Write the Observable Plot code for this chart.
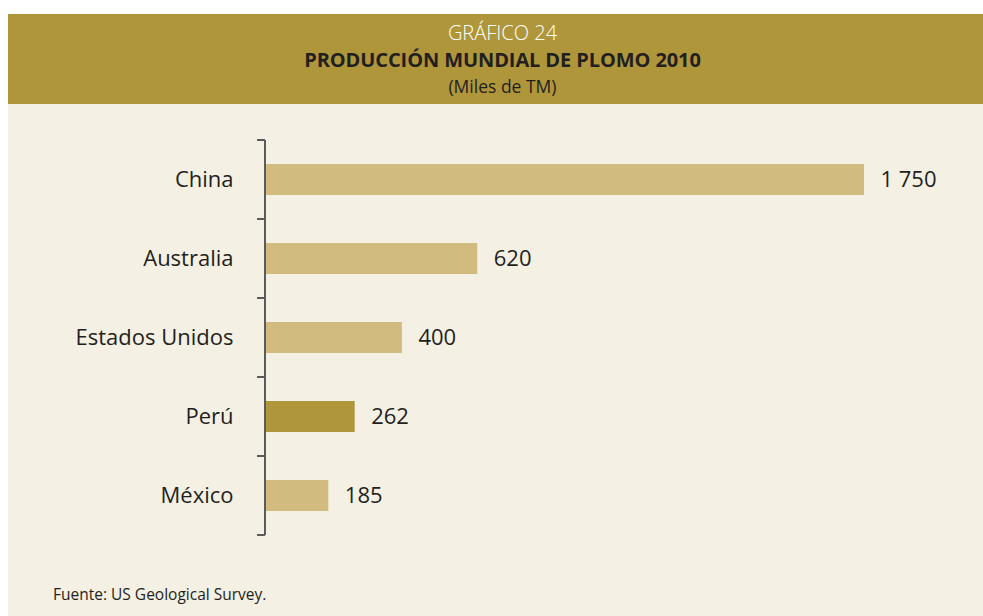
<!DOCTYPE html>
<html>
<head>
<meta charset="utf-8">
<script src="https://cdn.jsdelivr.net/npm/d3@7"></script>
<script src="https://cdn.jsdelivr.net/npm/@observablehq/plot@0.6"></script>
<style>
  html, body { margin: 0; padding: 0; background: #ffffff; }
  body { width: 983px; height: 616px; position: relative; overflow: hidden; font-family: "Open Sans", sans-serif; }
  #panel { position: absolute; left: 8px; top: 14px; width: 975px; height: 602px; background: #f5f0e4; }
  #header { position: absolute; left: 0; top: 0; width: 975px; height: 90px; background: #b0963a; text-align: center; }
  #header div { position: absolute; left: 0; right: 0; padding-left: 14px; line-height: 1; white-space: nowrap; }
  #header .t1 { top: 8.5px; color: #ffffff; font-size: 20px; font-weight: 300; }
  #header .t2 { top: 36.2px; color: #231f20; font-size: 20px; font-weight: 700; letter-spacing: -0.1px; }
  #header .t3 { top: 63.5px; color: #231f20; font-size: 17.5px; }
  #chart { position: absolute; left: 0; top: 90px; }
  #footer { position: absolute; left: 45px; top: 573px; font-size: 15.5px; line-height: 1; color: #231f20; }
</style>
</head>
<body>
<div id="panel">
  <div id="header">
    <div class="t1">GRÁFICO 24</div>
    <div class="t2">PRODUCCIÓN MUNDIAL DE PLOMO 2010</div>
    <div class="t3">(Miles de TM)</div>
  </div>
  <div id="chart"></div>
  <div id="footer">Fuente: US Geological Survey.</div>
</div>
<script>
const countries = ["China", "Australia", "Estados Unidos", "Perú", "México"];
const values = [1750, 620, 400, 262, 185];
const highlight = "Perú";

const data = countries.map((c, i) => ({country: c, value: values[i]}));
const fmt = d3.formatLocale({decimal: ",", thousands: " ", grouping: [3], currency: ["", ""]}).format(",");

const lightBar = "#d2bb7e";
const darkBar = "#b0963a";
const ink = "#231f20";
const axisColor = "#5b5b5b";

// Axis line with ticks at band boundaries, drawn from the y band scale
function bracketAxis(index, scales, values, dims) {
  const y = scales.y;
  const step = y.step ? y.step() : y.bandwidth();
  const gap = (step - y.bandwidth()) / 2;
  const x0 = scales.x(0);
  const bounds = countries.map(c => y(c) - gap);
  bounds.push(y(countries[countries.length - 1]) + y.bandwidth() + gap);
  const g = d3.create("svg:g").attr("stroke", axisColor).attr("stroke-width", 2).attr("fill", "none");
  g.append("line").attr("x1", x0).attr("x2", x0).attr("y1", bounds[0]).attr("y2", bounds[bounds.length - 1]);
  for (const b of bounds) {
    g.append("line").attr("x1", x0 - 8).attr("x2", x0).attr("y1", b).attr("y2", b);
  }
  return g.node();
}

const chart = Plot.plot({
  width: 975,
  height: 460,
  marginTop: 35,
  marginBottom: 29,
  marginLeft: 257,
  marginRight: 119,
  style: {background: "transparent", fontFamily: "Open Sans, sans-serif"},
  x: {domain: [0, 1750], axis: null},
  y: {domain: countries, paddingInner: 0.61, paddingOuter: 0.305, axis: null},
  marks: [
    Plot.barX(data, {x: "value", y: "country", fill: d => d.country === highlight ? darkBar : lightBar, insetLeft: 1}),
    bracketAxis,
    Plot.text(data, {x: 0, y: "country", text: "country", textAnchor: "end", dx: -32, fontSize: 22, fill: ink}),
    Plot.text(data, {x: "value", y: "country", text: d => fmt(d.value), textAnchor: "start", dx: 16, fontSize: 22, fill: ink})
  ]
});
document.getElementById("chart").appendChild(chart);
</script>
</body>
</html>
